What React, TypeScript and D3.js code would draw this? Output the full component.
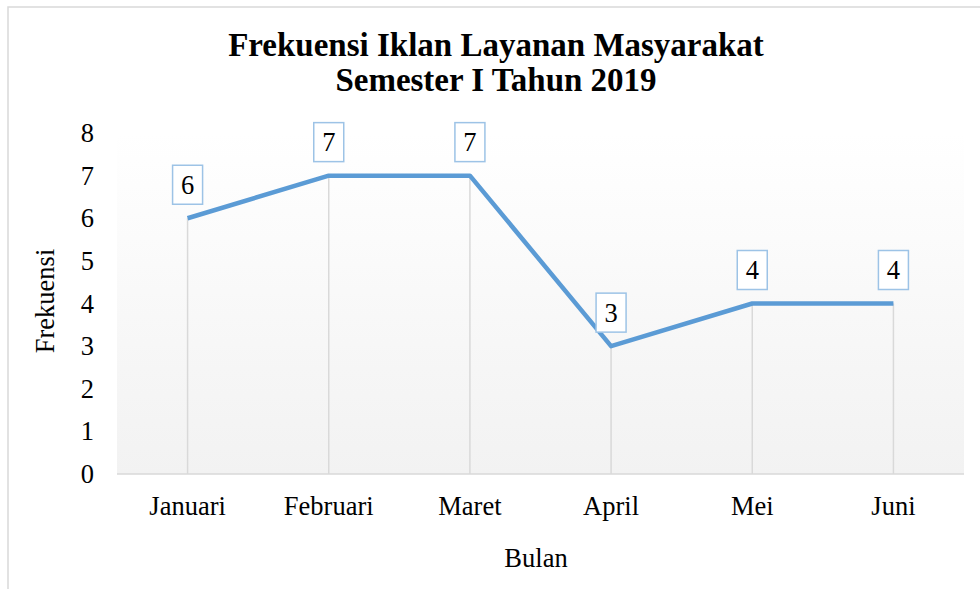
import React from "react";
import * as d3 from "d3";

const months = ["Januari", "Februari", "Maret", "April", "Mei", "Juni"];
const values = [6, 7, 7, 3, 4, 4];
const yTicks = [0, 1, 2, 3, 4, 5, 6, 7, 8];
const titleLines = ["Frekuensi Iklan Layanan Masyarakat", "Semester I Tahun 2019"];

const W = 980;
const H = 589;
const FONT = "'Liberation Serif', 'Times New Roman', serif";
const FS = 26.5;

export default function App() {
  const left = 117, right = 964, top = 133, bottom = 474;
  const x = d3.scaleBand<string>().domain(months).range([left, right]);
  const y = d3.scaleLinear().domain([0, 8]).range([bottom, top]);
  const cx = (m: string) => (x(m) as number) + x.bandwidth() / 2;
  const line = d3
    .line<number>()
    .x((_, i) => cx(months[i]))
    .y((d) => y(d));

  return (
    <svg
      width={W}
      height={H}
      style={{ position: "absolute", left: 0, top: 0 }}
      fontFamily={FONT}
    >
      <defs>
        <linearGradient id="pa" x1="0" y1="0" x2="0" y2="1">
          <stop offset="0" stopColor="#ffffff" />
          <stop offset="1" stopColor="#f2f2f2" />
        </linearGradient>
      </defs>
      <rect x={0} y={0} width={W} height={H} fill="#fff" />
      <rect x={8} y={7} width={W + 20} height={H + 20} fill="#fff" stroke="#d9d9d9" strokeWidth={1.5} />
      {titleLines.map((t, i) => (
        <text key={i} x={496} y={56 + i * 35} textAnchor="middle" fontWeight="bold" fontSize={33} fill="#000">
          {t}
        </text>
      ))}
      <rect x={left} y={top} width={right - left} height={bottom - top} fill="url(#pa)" />
      {months.map((m, i) => (
        <line key={m} x1={cx(m)} x2={cx(m)} y1={y(values[i])} y2={bottom} stroke="#d9d9d9" strokeWidth={1.5} />
      ))}
      <line x1={left} x2={right} y1={bottom} y2={bottom} stroke="#d9d9d9" strokeWidth={1.5} />
      {yTicks.map((t) => (
        <text key={t} x={94} y={y(t)} dy="0.34em" textAnchor="end" fontSize={FS} fill="#000">
          {t}
        </text>
      ))}
      {months.map((m) => (
        <text key={m} x={cx(m)} y={515} textAnchor="middle" fontSize={FS} fill="#000">
          {m}
        </text>
      ))}
      <text x={536} y={567} textAnchor="middle" fontSize={FS} fill="#000">
        Bulan
      </text>
      <text transform="translate(54,301) rotate(-90)" textAnchor="middle" fontSize={FS} fill="#000">
        Frekuensi
      </text>
      <path d={line(values) || ""} fill="none" stroke="#5b9bd5" strokeWidth={4.5} strokeLinejoin="round" />
      {months.map((m, i) => {
        const px = cx(m);
        const py = y(values[i]);
        const bc = py - 33.5;
        return (
          <g key={m}>
            <rect x={px - 15} y={bc - 19.5} width={30} height={39} fill="#fff" stroke="#9dc3e6" strokeWidth={1.5} />
            <text x={px} y={bc} dy="0.34em" textAnchor="middle" fontSize={FS} fill="#000">
              {values[i]}
            </text>
          </g>
        );
      })}
    </svg>
  );
}
